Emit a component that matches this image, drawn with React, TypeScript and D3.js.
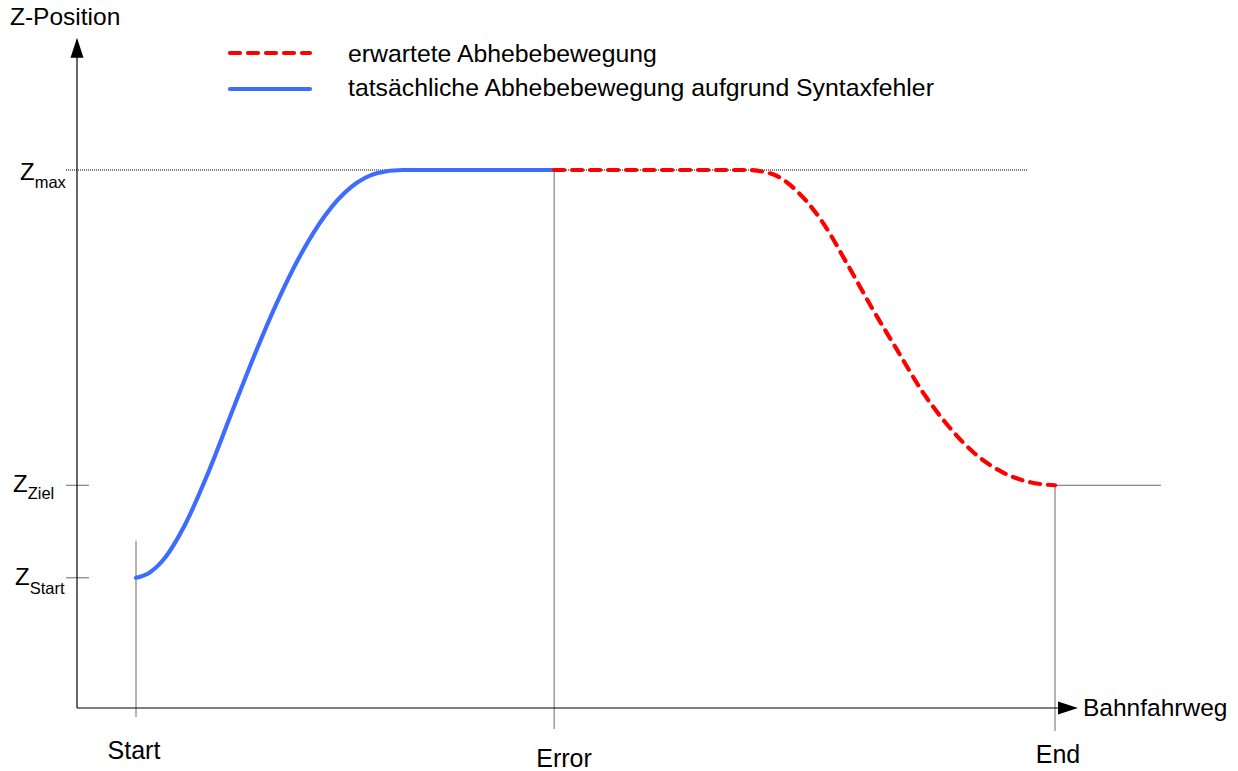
import React from "react";
import * as d3 from "d3";

// ---- data (x: path units, Start=0, End=100; y: Z units, axis=0, Zmax=100) ----
const xMarkLabels = ["Start", "Error", "End"];
const xMarkValues = [0, 45.5, 100];

const zLabels = ["max", "Ziel", "Start"];
const zValues = [100, 41.4, 24.2];

const actualX = [0, 1.5, 3.0, 5.4, 7.8, 10.3, 12.8, 15.3, 17.9, 20.6, 23.4, 26.2, 29.0, 45.5];
const actualY = [24.2, 25.2, 27.6, 34.3, 43.5, 54.4, 65.2, 75.2, 84.2, 91.6, 96.8, 99.4, 100, 100];

const expectedX = [45.5, 56, 66.5, 69.3, 72.2, 74.9, 77.5, 80.1, 82.8, 85.5, 88.3, 91.2, 94.2, 97.2, 100];
const expectedY = [100, 100, 100, 99.2, 95.6, 89.8, 82.2, 74.3, 66.6, 59.0, 52.6, 47.4, 43.9, 42.0, 41.4];

const legendLabels = [
  "erwartete Abhebebewegung",
  "tatsächliche Abhebebewegung aufgrund Syntaxfehler",
];

const axisTitleY = "Z-Position";
const axisTitleX = "Bahnfahrweg";

const axisXMin = -6.42;
const axisXMax = 102.5;
const axisYMax = 124.6;

const FONT = "'Liberation Sans', Arial, Helvetica, sans-serif";
const RED = "#ff0000";
const BLUE = "#3d6cff";
const GRAY = "#6a6a6a";

export default function App() {
  const x = d3.scaleLinear().domain([0, 100]).range([136, 1055]);
  const y = d3.scaleLinear().domain([0, 100]).range([708, 170]);

  const line = d3
    .line<[number, number]>()
    .x((d) => x(d[0]))
    .y((d) => y(d[1]))
    .curve(d3.curveMonotoneX);

  const actual = actualX.map((v, i) => [v, actualY[i]] as [number, number]);
  const expected = expectedX.map((v, i) => [v, expectedY[i]] as [number, number]);

  const x0 = x(axisXMin);
  const y0 = y(0);
  const xEnd = x(axisXMax);
  const yTop = y(axisYMax);

  const zBaseline = [10, 7, 7];
  const subBaseline = [18, 14, 16];
  const zLeft = [20, 13, 15];
  const markBottom = [717, 729, 731];
  const markTop = [y(24.2) - 37, y(100), y(41.4)];
  const labelBaselines = [759, 767, 763];
  const labelCenters = [134, 564, 1058];

  return (
    <svg
      width={1238}
      height={771}
      style={{ position: "absolute", left: 0, top: 0, background: "#fff" }}
      fontFamily={FONT}
    >
      <rect width={1238} height={771} fill="#fff" />

      {/* Zmax dotted reference line */}
      <line
        x1={66}
        x2={1027}
        y1={y(100)}
        y2={y(100)}
        stroke="#000"
        strokeWidth={1}
        strokeDasharray="1,1"
      />

      {/* Z ticks */}
      {zValues.slice(1).map((v, i) => (
        <line key={"zt" + i} x1={66} x2={89} y1={y(v)} y2={y(v)} stroke={GRAY} strokeWidth={1} />
      ))}

      {/* Ziel horizontal after End */}
      <line x1={x(100)} x2={1161} y1={y(41.4)} y2={y(41.4)} stroke={GRAY} strokeWidth={1} />

      {/* vertical markers */}
      {xMarkValues.map((v, i) => (
        <line
          key={"vm" + i}
          x1={x(v)}
          x2={x(v)}
          y1={markTop[i]}
          y2={markBottom[i]}
          stroke={GRAY}
          strokeWidth={1}
        />
      ))}

      {/* axes */}
      <line x1={x0} x2={x0} y1={y0} y2={yTop + 18} stroke="#000" strokeWidth={1.2} />
      <path
        d={`M${x0},${yTop} L${x0 - 6.5},${yTop + 20} L${x0 + 6.5},${yTop + 20} Z`}
        fill="#000"
      />
      <line x1={x0} x2={xEnd - 18} y1={y0} y2={y0} stroke="#000" strokeWidth={1.2} />
      <path
        d={`M${xEnd},${y0} L${xEnd - 20},${y0 - 6.5} L${xEnd - 20},${y0 + 6.5} Z`}
        fill="#000"
      />

      {/* curves */}
      <path d={line(actual) || ""} fill="none" stroke={BLUE} strokeWidth={4.2} strokeLinecap="round" />
      <path
        d={line(expected) || ""}
        fill="none"
        stroke={RED}
        strokeWidth={4.2}
        strokeDasharray="10,8"
        strokeLinecap="round"
      />

      {/* axis titles */}
      <text x={10} y={25} fontSize={24.5} fill="#000">
        {axisTitleY}
      </text>
      <text x={1083} y={716} fontSize={24.5} fill="#000">
        {axisTitleX}
      </text>

      {/* Z labels */}
      {zValues.map((v, i) => (
        <text key={"zl" + i} x={zLeft[i]} y={y(v) + zBaseline[i]} fontSize={24} fill="#000">
          Z
          <tspan fontSize={16.5} dy={subBaseline[i] - zBaseline[i]}>
            {zLabels[i]}
          </tspan>
        </text>
      ))}

      {/* x markers labels */}
      {xMarkLabels.map((t, i) => (
        <text
          key={"xl" + i}
          x={labelCenters[i]}
          y={labelBaselines[i]}
          fontSize={25}
          textAnchor="middle"
          fill="#000"
        >
          {t}
        </text>
      ))}

      {/* legend */}
      <line
        x1={230}
        x2={310}
        y1={53}
        y2={53}
        stroke={RED}
        strokeWidth={4.2}
        strokeDasharray="10,8"
        strokeLinecap="round"
      />
      <line x1={230} x2={310} y1={89} y2={89} stroke={BLUE} strokeWidth={4.2} strokeLinecap="round" />
      <text x={348} y={62} fontSize={24.8} fill="#000">
        {legendLabels[0]}
      </text>
      <text x={348} y={96} fontSize={24.8} fill="#000">
        {legendLabels[1]}
      </text>
    </svg>
  );
}
